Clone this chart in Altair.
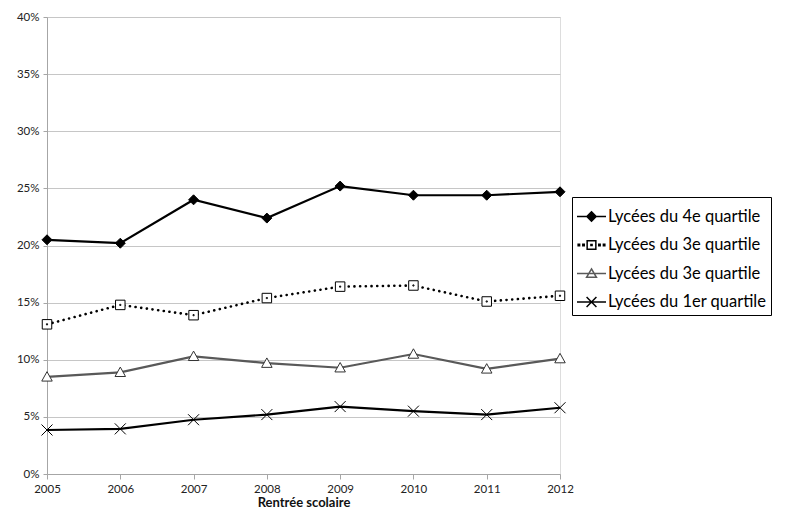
import altair as alt
import pandas as pd

years = [2005, 2006, 2007, 2008, 2009, 2010, 2011, 2012]
series_keys = ["Q4", "Q3a", "Q3b", "Q1"]
series_labels = ["Lycées du 4e quartile", "Lycées du 3e quartile",
                 "Lycées du 3e quartile", "Lycées du 1er quartile"]
q4 = [20.5, 20.2, 24.0, 22.4, 25.2, 24.4, 24.4, 24.7]
q3a = [13.1, 14.8, 13.9, 15.4, 16.4, 16.5, 15.1, 15.6]
q3b = [8.5, 8.9, 10.3, 9.7, 9.3, 10.5, 9.2, 10.1]
q1 = [3.85, 3.95, 4.75, 5.2, 5.9, 5.5, 5.2, 5.8]

values = {"Q4": q4, "Q3a": q3a, "Q3b": q3b, "Q1": q1}
rows = []
for k in series_keys:
    for y, v in zip(years, values[k]):
        rows.append({"year": y, "value": v / 100.0, "series": k})
df = pd.DataFrame(rows)

FONT = "Lato"

x_enc = alt.X("year:Q", scale=alt.Scale(domain=[2005, 2012], nice=False, zero=False),
              axis=alt.Axis(values=years, format="d", title="Rentrée scolaire",
                            grid=False, tickSize=5, labelPadding=4, titlePadding=2,
                            labelFlush=False, labelOverlap=False,
                            domainColor="#a6a6a6", tickColor="#a6a6a6",
                            labelFont=FONT, labelFontSize=11.5, labelColor="#222",
                            titleFont=FONT, titleFontSize=13, titleFontWeight="bold",
                            titleColor="#111"))
y_enc = alt.Y("value:Q", scale=alt.Scale(domain=[0, 0.4], nice=False),
              axis=alt.Axis(values=[i * 0.05 for i in range(9)], format=".0%", title=None,
                            grid=True, gridColor="#c6c6c6", tickSize=4, labelPadding=4,
                            labelFlush=False, labelOverlap=False,
                            domainColor="#a6a6a6", tickColor="#a6a6a6",
                            labelFont=FONT, labelFontSize=11.5, labelColor="#222"))

line_style = {
    "Q4": dict(color="black", strokeWidth=2.2),
    "Q3a": dict(color="black", strokeWidth=2.6, strokeDash=[0.1, 5.6], strokeCap="round"),
    "Q3b": dict(color="#595959", strokeWidth=2.2),
    "Q1": dict(color="black", strokeWidth=2.2),
}
point_style = {
    "Q4": dict(shape="M0,-1L1,0L0,1L-1,0Z", size=100, fill="black", stroke="black", strokeWidth=1),
    "Q3a": dict(shape="M-1,-1H1V1H-1ZM-0.12,-0.12H0.12V0.12H-0.12Z", size=90, fill="white",
                stroke="black", strokeWidth=1),
    "Q3b": dict(shape="M0,-1L1,0.8L-1,0.8Z", size=110, fill="white", stroke="#333",
                strokeWidth=1),
    "Q1": dict(shape="M-1,-1L1,1M-1,1L1,-1", size=121, fill="transparent", stroke="black",
               strokeWidth=1),
}

layers = []
for k in series_keys:
    base = alt.Chart(df).transform_filter(alt.datum.series == k)
    layers.append(base.mark_line(**line_style[k]).encode(x=x_enc, y=y_enc))
for k in series_keys:
    base = alt.Chart(df).transform_filter(alt.datum.series == k)
    layers.append(base.mark_point(filled=False, opacity=1, **point_style[k]).encode(x=x_enc, y=y_enc))

legend_paths = [
    "M-1,0H1M0,-0.32L0.32,0L0,0.32L-0.32,0Z",
    "M-0.92,-0.05h0.1v0.1h-0.1ZM-0.6,-0.05h0.1v0.1h-0.1ZM0.5,-0.05h0.1v0.1h-0.1Z"
    "M0.82,-0.05h0.1v0.1h-0.1ZM-0.3,-0.3H0.3V0.3H-0.3ZM-0.04,-0.04h0.08v0.08h-0.08Z",
    "M-1,0H1M0,-0.32L0.34,0.26L-0.34,0.26Z",
    "M-1,0H1M-0.34,-0.34L0.34,0.34M-0.34,0.34L0.34,-0.34",
]
label_expr = ("datum.value == 'Q4' ? '%s' : datum.value == 'Q1' ? '%s' : '%s'"
              % (series_labels[0], series_labels[3], series_labels[1]))

legend = alt.Legend(title=None, orient="none", legendX=525, legendY=180,
                    strokeColor="black", padding=4, rowPadding=4.5,
                    symbolSize=841, symbolStrokeWidth=1.5, labelOffset=1,
                    labelFont=FONT, labelFontSize=16.5, labelColor="black",
                    labelExpr=label_expr)

legend_layer = alt.Chart(df).transform_filter("false").mark_point(opacity=1, strokeWidth=1.5).encode(
    x=x_enc, y=y_enc,
    shape=alt.Shape("series:N", scale=alt.Scale(domain=series_keys, range=legend_paths), legend=legend),
    stroke=alt.Stroke("series:N", scale=alt.Scale(domain=series_keys,
                                                  range=["black", "black", "#595959", "black"]),
                      legend=legend),
    fill=alt.Fill("series:N", scale=alt.Scale(domain=series_keys,
                                              range=["black", "white", "white", "white"]),
                  legend=legend),
)
layers.append(legend_layer)

chart = alt.layer(*layers).properties(
    width=513, height=457,
    autosize=alt.AutoSizeParams(type="none"),
    padding={"left": 39, "top": 9, "right": 217, "bottom": 38},
).configure_view(stroke=None).configure(background="white")

chart.save("out.html", embed_options={"renderer": "svg", "actions": False})
